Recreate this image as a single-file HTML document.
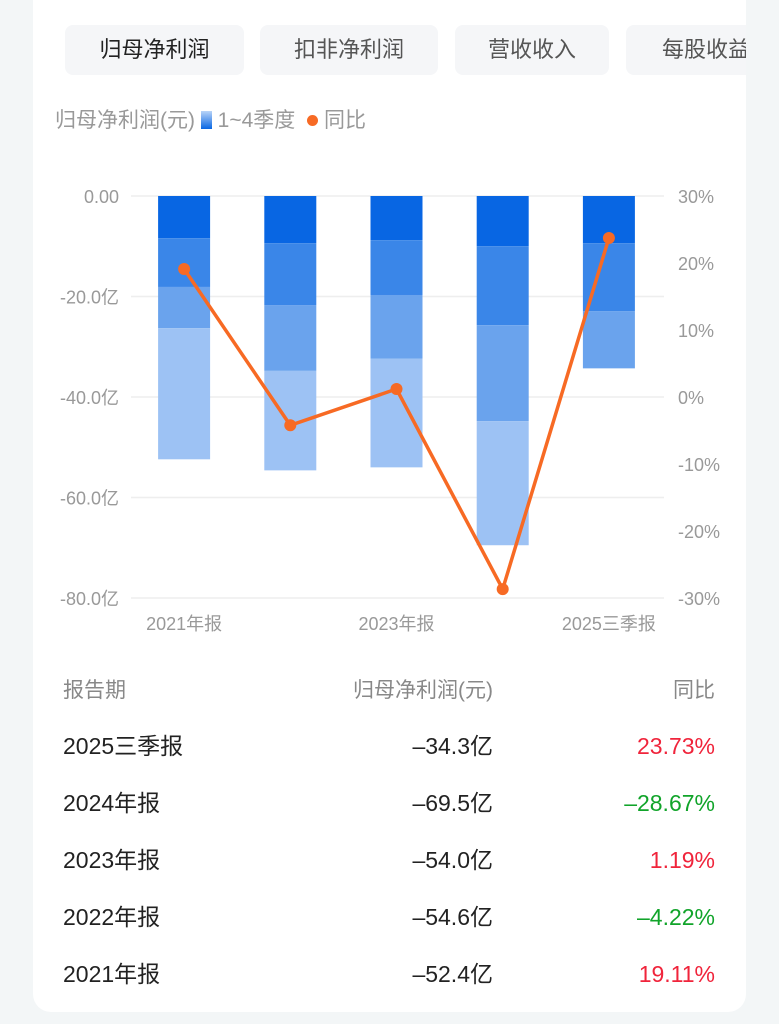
<!DOCTYPE html>
<html><head><meta charset="utf-8"><style>
body{margin:0;width:779px;height:1024px;background:#f3f6f7;font-family:"Liberation Sans","Noto Sans CJK SC",sans-serif;overflow:hidden;position:relative}
.card{position:absolute;left:33px;top:-20px;width:713px;height:1032px;background:#fff;border-radius:18px;overflow:hidden}
.tab{position:absolute;top:45px;height:50px;background:#f5f6f8;border-radius:8px;font-size:22px;color:#555;line-height:50px;text-align:center}
.legend{position:absolute;left:22px;top:124px;font-size:21px;color:#999;white-space:nowrap}
.row{position:absolute;left:30px;width:652px;height:32px;font-size:23px;color:#222}
.row span{position:absolute;top:0;line-height:32px;height:32px;display:block}
svg{position:absolute;left:0;top:0}
</style></head><body>
<div class="card">
<div class="tab" style="left:32px;width:179px;color:#222">归母净利润</div>
<div class="tab" style="left:227px;width:178px">扣非净利润</div>
<div class="tab" style="left:422px;width:154px">营收收入</div>
<div class="tab" style="left:593px;width:160px">每股收益</div>
<div class="legend">归母净利润(元) <span style="display:inline-block;width:11px;height:18px;background:linear-gradient(#b9d4f8,#0866e3);vertical-align:-2px"></span> 1~4季度 <span style="display:inline-block;width:11px;height:11px;border-radius:50%;background:#f76a24;vertical-align:1px;margin-left:6px"></span> 同比</div>
<div class="row" style="top:695px;font-size:21px;color:#888"><span style="left:0">报告期</span><span style="right:222px">归母净利润(元)</span><span style="right:0">同比</span></div>
<div id="rows"></div>
</div>
<svg id="chart" width="779" height="660"></svg>
<script>
const categories=["2021年报","2022年报","2023年报","2024年报","2025三季报"];
const q1=[8.4,9.4,8.8,10.0,9.4];
const q2=[9.7,12.3,10.9,15.7,13.5];
const q3=[8.2,13.1,12.7,19.1,11.4];
const q4=[26.1,19.8,21.6,24.7,0];
const yoy=[19.11,-4.22,1.19,-28.67,23.73];
const leftTicks=[0,-20,-40,-60,-80];
const leftLabels=["0.00","-20.0亿","-40.0亿","-60.0亿","-80.0亿"];
const rightTicks=[30,20,10,0,-10,-20,-30];
const totals=["-52.4亿","-54.6亿","-54.0亿","-69.5亿","-34.3亿"];
const NS="http://www.w3.org/2000/svg";
const svg=document.getElementById('chart');
const x0=131,x1=662,yTop=196,yBot=598;
const band=(x1-x0)/categories.length;
const xc=i=>x0+band*(i+0.5);
const yL=v=>yTop+(0-v)/80*(yBot-yTop);
const yR=v=>yTop+(30-v)/60*(yBot-yTop);
function mk(t,a){const e=document.createElementNS(NS,t);for(const k in a)e.setAttribute(k,a[k]);svg.appendChild(e);return e;}
leftTicks.forEach((v,i)=>{
 const g=mk('line',{x1:x0,x2:x1+2,y1:yL(v),y2:yL(v),stroke:'#eeeeee','stroke-width':1.5});
 
 
 const t=mk('text',{x:119,y:yL(v)+7,'text-anchor':'end','font-size':18,fill:'#999'});t.textContent=leftLabels[i];
 
 
});
rightTicks.forEach(v=>{
 const t=mk('text',{x:678,y:yR(v)+7,'font-size':18,fill:'#999'});t.textContent=v+'%';
 
 
});
const cols=['#0866e3','#3a86e8','#6aa3ed','#9dc2f4'];
const qs=[q1,q2,q3,q4];
categories.forEach((c,i)=>{
 let acc=0;
 qs.forEach((q,k)=>{
  if(!q[i])return;
  const r=mk('rect',{x:xc(i)-26,y:yL(-acc),width:52,height:yL(-(acc+q[i]))-yL(-acc),fill:cols[k]});
  
  
  acc+=q[i];
 });
 if(i%2==0){const t=mk('text',{x:xc(i),y:630,'text-anchor':'middle','font-size':18,fill:'#999'});t.textContent=c;
 
 }
});
const pl=mk('polyline',{points:yoy.map((v,i)=>xc(i)+','+yR(v)).join(' '),fill:'none',stroke:'#f76a24','stroke-width':3.5});


yoy.forEach((v,i)=>{const d=mk('circle',{cx:xc(i),cy:yR(v),r:6,fill:'#f76a24'});
 
 });
const rows=document.getElementById('rows');
for(let j=0;j<5;j++){
 const i=4-j;
 const r=document.createElement('div');r.className='row';r.style.top=(750+57*j)+'px';
 
 
 const col=yoy[i]>=0?'#f0243b':'#11a42a';
 const s=(yoy[i]<0?'–'+Math.abs(yoy[i]).toFixed(2):yoy[i].toFixed(2))+'%';
 r.innerHTML='<span style="left:0">'+categories[i]+'</span><span style="right:222px">'+totals[i].replace('-','–')+'</span><span style="right:0;color:'+col+'">'+s+'</span>';
 rows.appendChild(r);
}
</script>
</body></html>
